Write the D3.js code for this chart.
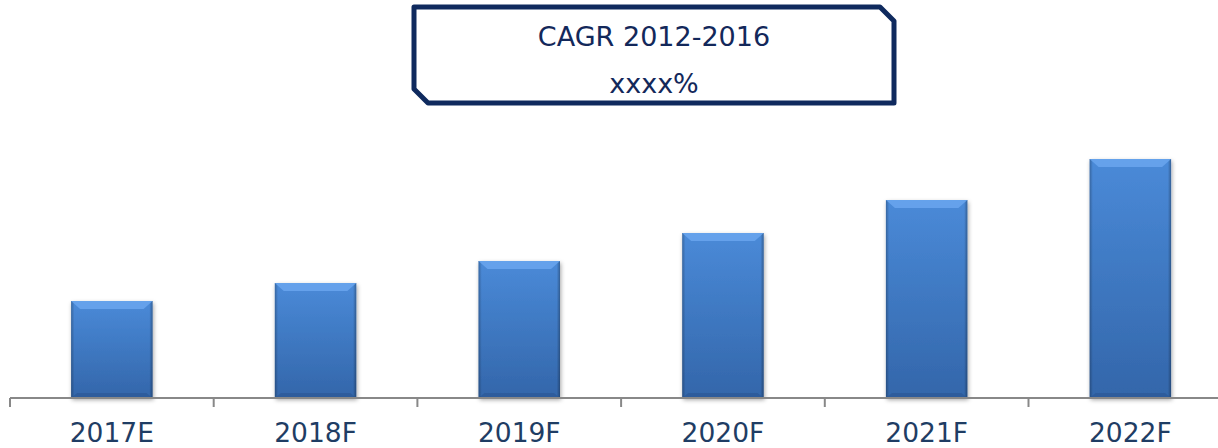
<!DOCTYPE html>
<html>
<head>
<meta charset="utf-8">
<script src="https://cdn.jsdelivr.net/npm/d3@7"></script>
<style>
  body { margin: 0; background: #fff; }
  svg { display: block; }
</style>
</head>
<body>
<div class="chart"></div>
<script>
// Data
const years = ['2017E', '2018F', '2019F', '2020F', '2021F', '2022F']
const values = [97, 115, 137, 165, 198, 239]
const boxLines = ['CAGR 2012-2016', 'xxxx%']

const width = 1218
const height = 448
const baseY = 398

const svg = d3.select('.chart')
    .append('svg')
    .attr('width', width)
    .attr('height', height)

const defs = svg.append('defs')
const grad = defs.append('linearGradient')
    .attr('id', 'barFill')
    .attr('x1', 0).attr('y1', 0).attr('x2', 0).attr('y2', 1)
grad.append('stop').attr('offset', '0%').attr('stop-color', '#4a8ad8')
grad.append('stop').attr('offset', '100%').attr('stop-color', '#3366aa')

const sideGrad = defs.append('linearGradient')
    .attr('id', 'sideFill')
    .attr('x1', 0).attr('y1', 0).attr('x2', 1).attr('y2', 0)
sideGrad.append('stop').attr('offset', '0%').attr('stop-color', '#000').attr('stop-opacity', 0.25)
sideGrad.append('stop').attr('offset', '4%').attr('stop-color', '#000').attr('stop-opacity', 0)
sideGrad.append('stop').attr('offset', '96%').attr('stop-color', '#000').attr('stop-opacity', 0)
sideGrad.append('stop').attr('offset', '100%').attr('stop-color', '#000').attr('stop-opacity', 0.3)

const shadow = defs.append('filter').attr('id', 'shadow')
    .attr('x', '-20%').attr('y', '-10%').attr('width', '140%').attr('height', '120%')
shadow.append('feDropShadow')
    .attr('dx', 1).attr('dy', 2).attr('stdDeviation', 2)
    .attr('flood-color', '#000').attr('flood-opacity', 0.35)

// Scales
const xScale = d3.scaleBand()
    .domain(years)
    .range([10, 10 + 203.7 * years.length])
    .paddingInner(0.6)
    .paddingOuter(0.3)

const yScale = d3.scaleLinear()
    .domain([0, 300])
    .range([baseY, baseY - 300])

// Bars
const bars = svg.append('g')
    .selectAll('g')
    .data(values)
    .enter()
    .append('g')

bars.append('rect')
    .attr('x', (d, i) => xScale(years[i]))
    .attr('y', d => yScale(d))
    .attr('width', xScale.bandwidth())
    .attr('height', d => baseY - yScale(d))
    .attr('fill', 'url(#barFill)')
    .attr('filter', 'url(#shadow)')

bars.append('rect')
    .attr('x', (d, i) => xScale(years[i]))
    .attr('y', d => yScale(d))
    .attr('width', xScale.bandwidth())
    .attr('height', d => baseY - yScale(d))
    .attr('fill', 'url(#sideFill)')

// top bevel
bars.append('path')
    .attr('d', (d, i) => {
        const x0 = xScale(years[i])
        const x1 = x0 + xScale.bandwidth()
        const y0 = yScale(d)
        return `M${x0},${y0}L${x1},${y0}L${x1 - 9},${y0 + 8}L${x0 + 9},${y0 + 8}Z`
    })
    .attr('fill', '#6aa6ee')
    .attr('opacity', 0.85)

// bottom bevel
bars.append('path')
    .attr('d', (d, i) => {
        const x0 = xScale(years[i])
        const x1 = x0 + xScale.bandwidth()
        return `M${x0},${baseY}L${x1},${baseY}L${x1 - 6},${baseY - 5}L${x0 + 6},${baseY - 5}Z`
    })
    .attr('fill', '#2a5592')
    .attr('opacity', 0.6)

// X axis
const xAxis = d3.axisBottom(xScale).tickSize(0).tickPadding(25)
const axisG = svg.append('g')
    .attr('transform', `translate(0, ${baseY})`)
    .call(xAxis)
axisG.select('.domain')
    .attr('d', `M10,0H${width}`)
    .attr('stroke', '#888')
    .attr('stroke-width', 2)
axisG.selectAll('.tick text')
    .attr('font-family', 'DejaVu Sans, Verdana, sans-serif')
    .attr('font-size', 26.5)
    .attr('fill', '#1f3d64')

// band edge ticks
const edges = d3.range(years.length + 1).map(i => 10 + 203.7 * i)
axisG.append('g')
    .selectAll('line')
    .data(edges)
    .enter()
    .append('line')
    .attr('x1', d => d).attr('x2', d => d)
    .attr('y1', 0).attr('y2', 9)
    .attr('stroke', '#888')
    .attr('stroke-width', 2)

// CAGR box
const bx0 = 414, bx1 = 894, by0 = 7, by1 = 103, c = 14
svg.append('path')
    .attr('d', `M${bx0},${by0}H${bx1 - c}L${bx1},${by0 + c}V${by1}H${bx0 + c}L${bx0},${by1 - c}Z`)
    .attr('fill', '#fff')
    .attr('stroke', '#0f2a5e')
    .attr('stroke-width', 5)
    .attr('stroke-linejoin', 'round')

svg.append('g')
    .selectAll('text')
    .data(boxLines)
    .enter()
    .append('text')
    .attr('x', (bx0 + bx1) / 2)
    .attr('y', (d, i) => 46 + i * 47)
    .attr('text-anchor', 'middle')
    .attr('font-family', 'DejaVu Sans, Verdana, sans-serif')
    .attr('font-size', 27)
    .attr('fill', '#13285a')
    .text(d => d)
</script>
</body>
</html>
